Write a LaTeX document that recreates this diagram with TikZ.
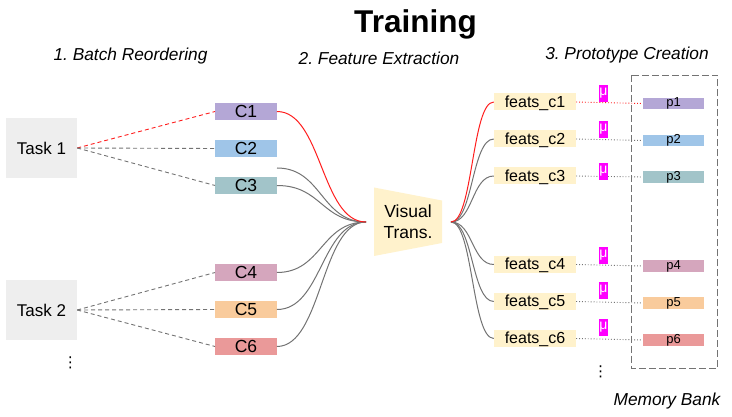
\documentclass[tikz,border=0pt]{standalone}
\usepackage{fontspec}
\setmainfont{Liberation Sans}
\newfontfamily\symfont{DejaVu Sans}
\usetikzlibrary{
    arrows.meta,
    positioning,
    calc
}
\definecolor{clsone}{RGB}{180, 167, 214}
\definecolor{clstwo}{RGB}{159, 197, 232}
\definecolor{clsthree}{RGB}{162, 196, 201}
\definecolor{clsfour}{RGB}{213, 166, 189}
\definecolor{clsfive}{RGB}{249, 203, 156}
\definecolor{clssix}{RGB}{234, 153, 153}
\definecolor{featfill}{RGB}{255, 242, 204}
\definecolor{taskfill}{RGB}{238, 238, 238}
\definecolor{linegray}{RGB}{115, 115, 115}
\definecolor{linered}{RGB}{255, 30, 30}
\definecolor{mufill}{RGB}{255, 0, 255}
\tikzset{
    headtext/.style={font=\fontsize{17.3}{20}\selectfont\itshape},
    dotstext/.style={font=\fontsize{15}{15}\selectfont\symfont},
    taskbox/.style={fill=taskfill, minimum width=71pt, minimum height=60pt, inner sep=0pt, text height=13.5pt, text depth=0pt, font=\fontsize{17}{20}\selectfont},
    clsbox/.style={minimum width=61.5pt, minimum height=17pt, inner sep=0pt, font=\fontsize{17.5}{18}\selectfont},
    featbox/.style={fill=featfill, minimum width=82pt, minimum height=17pt, inner sep=0pt, text height=14pt, text depth=3pt, font=\fontsize{16}{18}\selectfont},
    protobox/.style={minimum width=61pt, minimum height=10pt, inner sep=0pt, font=\fontsize{13}{14}\selectfont},
    mubox/.style={fill=mufill, text=white, minimum width=9pt, minimum height=17pt, inner sep=0pt, font=\fontsize{14}{14}\selectfont},
    taskline/.style={linegray, line width=0.9pt, dash pattern=on 4pt off 3pt},
    curveline/.style={linegray, line width=1pt, out=0, in=180, out distance=45pt, in distance=45pt},
    curveback/.style={linegray, line width=1pt, out=180, in=0, out distance=22pt, in distance=22pt},
    protoline/.style={dotted, linegray, line width=0.9pt}
}
\begin{document}
\frenchspacing
\begin{tikzpicture}[x=1pt, y=-1pt]
    \useasboundingbox (0,0) rectangle (732,417);

    % Title and column headers
    \node[font=\fontsize{31.5}{36}\selectfont\bfseries] (title) at (415.5,24) {Training};
    \node[headtext] (headone) at (130.5,56.5) {1. Batch Reordering};
    \node[headtext] (headtwo) at (379,58.5) {2. Feature Extraction};
    \node[headtext] (headthree) at (627,55.5) {3. Prototype Creation};

    % Tasks
    \node[taskbox] (task1) at (41.5,148) {Task 1};
    \node[taskbox] (task2) at (41.5,310) {Task 2};
    \node[dotstext] (dotsleft) at (70.5,363) {⋮};

    % Class batches
    \node[clsbox, fill=clsone] (c1) at (246,111.5) {C1};
    \node[clsbox, fill=clstwo] (c2) at (246,148.5) {C2};
    \node[clsbox, fill=clsthree] (c3) at (246,185.5) {C3};
    \node[clsbox, fill=clsfour] (c4) at (246,272.5) {C4};
    \node[clsbox, fill=clsfive] (c5) at (246,309.5) {C5};
    \node[clsbox, fill=clssix] (c6) at (246,346.5) {C6};

    % Task to class
    \draw[taskline, linered] (task1.east) -- (c1.west);
    \draw[taskline] (task1.east) -- (c2.west);
    \draw[taskline] (task1.east) -- (c3.west);
    \draw[taskline] (task2.east) -- (c4.west);
    \draw[taskline] (task2.east) -- (c5.west);
    \draw[taskline] (task2.east) -- (c6.west);

    % Visual transformer
    \fill[featfill] (374,187.5) -- (442,200.5) -- (442,243) -- (374,256) -- cycle;
    \node[font=\fontsize{17.5}{21}\selectfont, align=center] (vit) at (408,222) {Visual\\Trans.};
    \coordinate (vitin) at (366,222);
    \coordinate (vitout) at (451,222);
    \coordinate (extra) at (277,168);

    % Class to transformer
    \draw[curveline] (extra) to (vitin);
    \draw[curveline] (c3.east) to (vitin);
    \draw[curveline] (c4.east) to (vitin);
    \draw[curveline] (c5.east) to (vitin);
    \draw[curveline] (c6.east) to (vitin);
    \draw[curveline, linered] (c1.east) to (vitin);

    % Features
    \node[featbox] (feats1) at (535,102) {feats\_c1};
    \node[featbox] (feats2) at (535,139) {feats\_c2};
    \node[featbox] (feats3) at (535,176) {feats\_c3};
    \node[featbox] (feats4) at (535,264.5) {feats\_c4};
    \node[featbox] (feats5) at (535,301.5) {feats\_c5};
    \node[featbox] (feats6) at (535,338.5) {feats\_c6};
    \node[dotstext] (dotsright) at (600.5,372) {⋮};

    % Transformer to features
    \draw[curveback] (feats2.west) to (vitout);
    \draw[curveback] (feats3.west) to (vitout);
    \draw[curveback] (feats4.west) to (vitout);
    \draw[curveback] (feats5.west) to (vitout);
    \draw[curveback] (feats6.west) to (vitout);
    \draw[curveback, linered] (feats1.west) to (vitout);

    % Memory bank
    \draw[linegray, line width=1pt, dash pattern=on 7pt off 3pt] (631.5,75.5) rectangle (717.5,368);
    \node[headtext] (membank) at (667,401) {Memory Bank};

    % Prototypes
    \node[protobox, fill=clsone] (p1) at (673.5,103.5) {p1};
    \node[protobox, fill=clstwo] (p2) at (673.5,140.5) {p2};
    \node[protobox, fill=clsthree] (p3) at (673.5,177) {p3};
    \node[protobox, fill=clsfour] (p4) at (673.5,266) {p4};
    \node[protobox, fill=clsfive] (p5) at (673.5,303) {p5};
    \node[protobox, fill=clssix] (p6) at (673.5,340) {p6};

    % Features to prototypes
    \draw[protoline, linered] (feats1.east) -- (p1.west);
    \draw[protoline] (feats2.east) -- (p2.west);
    \draw[protoline] (feats3.east) -- (p3.west);
    \draw[protoline] (feats4.east) -- (p4.west);
    \draw[protoline] (feats5.east) -- (p5.west);
    \draw[protoline] (feats6.east) -- (p6.west);

    % Mean markers
    \node[mubox] (mu1) at (603.5,93.5) {μ};
    \node[mubox] (mu2) at (603.5,129.5) {μ};
    \node[mubox] (mu3) at (603.5,171.5) {μ};
    \node[mubox] (mu4) at (603.5,255.5) {μ};
    \node[mubox] (mu5) at (603.5,290.5) {μ};
    \node[mubox] (mu6) at (603.5,327) {μ};
\end{tikzpicture}
\end{document}
